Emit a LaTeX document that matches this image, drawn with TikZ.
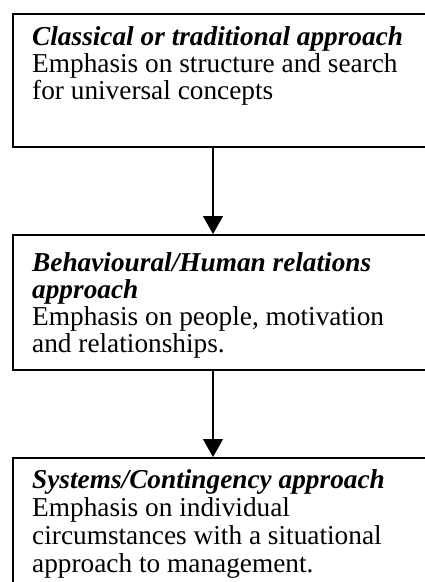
\documentclass[tikz,border=0pt]{standalone}
\usepackage{fontspec}
\setmainfont{Liberation Serif}
\usetikzlibrary{arrows.meta}
\begin{document}
\begin{tikzpicture}[x=1pt,y=-1pt,
  stagebox/.style={draw=black,line width=1.6pt,inner sep=0pt,anchor=north west},
  stagetext/.style={anchor=base west,align=left,inner sep=0pt,
    font=\fontsize{27.3}{27}\selectfont},
  flow/.style={draw=black,line width=1.2pt,-{Triangle[length=18pt,width=20pt]}}]
  \useasboundingbox (0,0) rectangle (425,582);
  \begin{scope}
    \clip (0,0) rectangle (425,582);
    % stage boxes
    \node[stagebox,minimum width=430pt,minimum height=133pt] (b1) at (12,13) {};
    \node[stagebox,minimum width=430pt,minimum height=135pt] (b2) at (12,234) {};
    \node[stagebox,minimum width=430pt,minimum height=140pt] (b3) at (12,457) {};
    % stage descriptions (each node is anchored at the baseline of its last line)
    \node[stagetext] (t1) at (32,99) {\textbf{\textit{Classical or traditional approach}}\\
      Emphasis on structure and search\\for universal concepts};
    \begin{scope}
      \clip (b2.north west) rectangle ([yshift=-10pt]b2.south east);
      \node[stagetext] (t2) at (32,352) {\textbf{\textit{Behavioural/Human relations}}\\
        \textbf{\textit{approach}}\\Emphasis on people, motivation\\and relationships.};
    \end{scope}
    \node[stagetext,font=\fontsize{27.3}{28}\selectfont] (t3) at (32,572)
      {\textbf{\textit{Systems/Contingency approach}}\\
      Emphasis on individual\\circumstances with a situational\\approach to management.};
  \end{scope}
  % connectors
  \coordinate (ax) at (213,0);
  \draw[flow] (b1.south -| ax) -- (b2.north -| ax);
  \draw[flow] (b2.south -| ax) -- (b3.north -| ax);
\end{tikzpicture}
\end{document}
